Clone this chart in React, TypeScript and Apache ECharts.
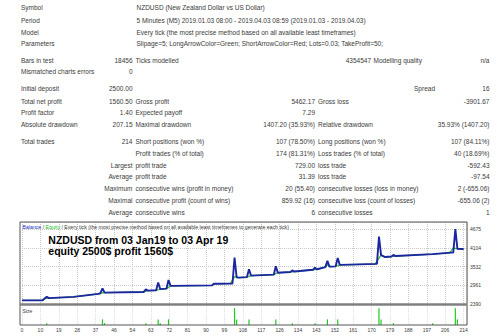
import { useEffect, useRef } from "react";
import * as echarts from "echarts";

// ---------- report table texts ----------
const headerRows = [
  ["Symbol", "NZDUSD (New Zealand Dollar vs US Dollar)"],
  ["Period", "5 Minutes (M5) 2019.01.03 08:00 - 2019.04.03 08:59 (2019.01.03 - 2019.04.03)"],
  ["Model", "Every tick (the most precise method based on all available least timeframes)"],
  ["Parameters", "Slipage=5; LongArrowColor=Green; ShortArrowColor=Red; Lots=0.03; TakeProfit=50;"],
];
const testRow = ["Bars in test", "18456", "Ticks modelled", "4354547", "Modelling quality", "n/a"];
const errorsRow = ["Mismatched charts errors", "0"];
const depositRow = ["Initial deposit", "2500.00", "Spread", "16"];
const statRows = [
  ["Total net profit", "1560.50", "Gross profit", "5462.17", "Gross loss", "-3901.67"],
  ["Profit factor", "1.40", "Expected payoff", "7.29", "", ""],
  ["Absolute drawdown", "207.15", "Maximal drawdown", "1407.20 (35.93%)", "Relative drawdown", "35.93% (1407.20)"],
];
const tradeRows = [
  ["Total trades", "214", "Short positions (won %)", "107 (78.50%)", "Long positions (won %)", "107 (84.11%)"],
  ["", "", "Profit trades (% of total)", "174 (81.31%)", "Loss trades (% of total)", "40 (18.69%)"],
  ["", "Largest", "profit trade", "729.00", "loss trade", "-592.43"],
  ["", "Average", "profit trade", "31.39", "loss trade", "-97.54"],
  ["", "Maximum", "consecutive wins (profit in money)", "20 (55.40)", "consecutive losses (loss in money)", "2 (-655.06)"],
  ["", "Maximal", "consecutive profit (count of wins)", "859.92 (16)", "consecutive loss (count of losses)", "-655.06 (2)"],
  ["", "Average", "consecutive wins", "6", "consecutive losses", "1"],
];

// ---------- chart texts ----------
const chartTitle1 = "NZDUSD from 03 Jan19 to 03 Apr 19";
const chartTitle2 = "equity 2500$ profit 1560$";
const chartHeaderRest = " / Every tick (the most precise method based on all available least timeframes to generate each tick)";

// ---------- chart data ----------
const xTickLabels = ["0", "10", "19", "28", "37", "46", "54", "63", "72", "81", "90", "99", "108", "117", "126", "134", "143", "152", "161", "170", "179", "188", "197", "206", "214"];
const yTickLabels = ["2390", "2961", "3532", "4104", "4675"];
const totalTrades = 214;
const yMin = 2390;
const yStep = 571.25;

// [trade number, balance]
const balance = [
  [0, 2500], [10, 2505], [11, 2560], [12, 2615], [13, 2570], [25, 2610], [37, 2700], [38, 2720],
  [39, 2870], [40, 2740], [59, 2760], [60, 2840], [61, 2800], [65, 2810], [66, 3050], [67, 2845],
  [70, 2860], [71, 3125], [72, 2945], [92, 2960], [93, 3010], [102, 3020], [103, 3815], [104, 3210],
  [105, 3200], [109, 3215], [110, 3455], [111, 3260], [122, 3290], [123, 3545], [124, 3350],
  [130, 3370], [131, 3420], [132, 3385], [141, 3440], [142, 3500], [143, 3455], [147, 3520],
  [148, 3715], [149, 3535], [152, 3545], [153, 3800], [154, 3590], [172, 3620], [173, 4455],
  [174, 3890], [176, 3830], [179, 3845], [180, 3895], [181, 3860], [199, 3920], [208, 3965],
  [209, 3970], [210, 4690], [211, 4080], [214, 4075],
];
// [trade number, equity]
const equity = [
  [0, 2500], [10, 2505], [11, 2560], [13, 2570], [25, 2610], [37, 2700], [38, 2720], [40, 2740],
  [59, 2760], [61, 2800], [65, 2810], [67, 2845], [70, 2860], [72, 2945], [92, 2960], [93, 3010],
  [101, 3020], [102, 3120], [103, 3230], [104, 3210], [105, 3200], [109, 3215], [111, 3260],
  [122, 3290], [124, 3350], [130, 3370], [132, 3385], [141, 3440], [143, 3455], [147, 3520],
  [148, 3600], [149, 3535], [152, 3545], [154, 3590], [171, 3615], [172, 3700], [173, 3800],
  [174, 3890], [176, 3830], [179, 3845], [181, 3860], [199, 3920], [207, 3960], [208, 4020],
  [209, 4110], [211, 4080], [214, 4075],
];
// [trade number, lot size]
const sizes = [
  [12, 0.03], [39, 0.09], [40, 0.03], [60, 0.03], [66, 0.09], [67, 0.03], [71, 0.09],
  [103, 0.27], [104, 0.09], [110, 0.09], [123, 0.09], [131, 0.03], [142, 0.03], [148, 0.09],
  [153, 0.09], [173, 0.27], [174, 0.09], [180, 0.03], [199, 0.03], [210, 0.27], [211, 0.09],
];

const FONT = "Liberation Sans";
const TXT = "#3a3a3a";

function txt(x: number, y: number, text: string, align = "left", size = 6.5, extra: any = {}) {
  return {
    type: "text",
    x,
    y,
    silent: true,
    z: 10,
    style: { text, fontSize: size, fontFamily: FONT, fill: TXT, align, verticalAlign: "middle", ...extra },
  };
}

export default function App() {
  const ref = useRef<HTMLDivElement>(null);
  useEffect(() => {
    if (!ref.current) return;
    const chart = echarts.init(ref.current, null, { renderer: "svg" });

    const colX = [21, 132.5, 135.5, 315, 318, 489.5];
    const colAlign = ["left", "right", "left", "right", "left", "right"];
    const g: any[] = [];
    const headerY = [7.5, 20, 32, 43.5];
    headerRows.forEach((r, i) => {
      g.push(txt(colX[0], headerY[i], r[0]));
      g.push(txt(136.5, headerY[i], r[1]));
    });
    // bars in test row
    g.push(txt(colX[0], 60, testRow[0]));
    g.push(txt(colX[1], 60, testRow[1], "right"));
    g.push(txt(colX[2], 60, testRow[2]));
    g.push(txt(371, 60, testRow[3], "right"));
    g.push(txt(373.5, 60, testRow[4]));
    g.push(txt(colX[5], 60, testRow[5], "right"));
    g.push(txt(colX[0], 71.7, errorsRow[0]));
    g.push(txt(colX[1], 71.7, errorsRow[1], "right"));
    g.push(txt(colX[0], 88.5, depositRow[0]));
    g.push(txt(colX[1], 88.5, depositRow[1], "right"));
    g.push(txt(435, 88.5, depositRow[2], "right"));
    g.push(txt(colX[5], 88.5, depositRow[3], "right"));
    const statY = [101, 112.5, 124.5];
    statRows.forEach((r, i) => r.forEach((c, j) => { if (c) g.push(txt(colX[j], statY[i], c, colAlign[j])); }));
    const tradeY = [141.7, 153.3, 165.2, 176.7, 188.6, 200.7, 212.6];
    tradeRows.forEach((r, i) => r.forEach((c, j) => { if (c) g.push(txt(colX[j], tradeY[i], c, colAlign[j])); }));

    // chart frame
    g.push({ type: "rect", shape: { x: 20, y: 222, width: 447, height: 103 }, style: { fill: "none", stroke: "#555", lineWidth: 1 }, silent: true, z: 20 });
    g.push({ type: "line", shape: { x1: 20, y1: 304.5, x2: 467, y2: 304.5 }, style: { stroke: "#808080", lineWidth: 2.5 }, silent: true, z: 20 });
    g.push({
      type: "text", x: 22.5, y: 226.5, silent: true, z: 10,
      style: {
        text: "{b|Balance} / {g|Equity}" + chartHeaderRest,
        fontSize: 5.2, fontFamily: FONT, fill: TXT, verticalAlign: "middle",
        rich: { b: { fill: "#2030c0", fontSize: 5.2, fontFamily: FONT }, g: { fill: "#20c020", fontSize: 5.2, fontFamily: FONT } },
      },
    });
    g.push(txt(48.3, 239.5, chartTitle1, "left", 10.5, { fontWeight: "bold", fill: "#000" }));
    g.push(txt(48.3, 251, chartTitle2, "left", 10.5, { fontWeight: "bold", fill: "#000" }));
    g.push(txt(22.5, 310.5, "Size", "left", 5));

    const pxPerTrade = 441.6 / totalTrades;
    const xMax = 445 / pxPerTrade;
    const xInt = totalTrades / 24;
    const xFmt = (v: number) => {
      const k = Math.round(v / xInt);
      return Math.abs(v - k * xInt) < 0.01 && xTickLabels[k] ? xTickLabels[k] : "";
    };
    const yFmt = (v: number) => {
      const k = Math.round((v - yMin) / yStep);
      return Math.abs(v - (yMin + k * yStep)) < 0.01 && yTickLabels[k] ? yTickLabels[k] : "";
    };
    const split = { show: true, lineStyle: { type: "dotted", color: "#c8c8c8", width: 1 } };

    chart.setOption({
      animation: false,
      backgroundColor: "#fff",
      textStyle: { fontFamily: FONT },
      grid: [
        { left: 22, top: 222, width: 445, height: 82, show: false },
        { left: 22, top: 305, width: 445, height: 20, show: false },
      ],
      xAxis: [
        {
          gridIndex: 0, type: "value", min: 0, max: xMax, interval: xInt,
          axisLine: { show: false }, axisTick: { show: false }, axisLabel: { show: false }, splitLine: split,
        },
        {
          gridIndex: 1, type: "value", min: 0, max: xMax, interval: xInt,
          axisLine: { show: false }, axisTick: { show: false },
          axisLabel: { show: true, fontSize: 5, color: TXT, margin: 2.5, formatter: xFmt, fontFamily: FONT },
          splitLine: { show: true, lineStyle: { type: "dotted", color: "#dedede", width: 1 } },
        },
      ],
      yAxis: [
        {
          gridIndex: 0, type: "value", position: "right", min: yMin, max: 4905, interval: yStep,
          axisLine: { show: false }, axisTick: { show: false },
          axisLabel: { show: true, fontSize: 5, color: TXT, margin: 3, formatter: yFmt, fontFamily: FONT },
          splitLine: split,
        },
        { gridIndex: 1, type: "value", min: 0, max: 0.32, show: false },
      ],
      series: [
        {
          type: "line", xAxisIndex: 0, yAxisIndex: 0, data: equity, symbol: "none",
          lineStyle: { color: "#30c030", width: 1.3 }, itemStyle: { color: "#30c030" }, z: 2,
        },
        {
          type: "line", xAxisIndex: 0, yAxisIndex: 0, data: balance, symbol: "none",
          lineStyle: { color: "#1c26a0", width: 1.9 }, itemStyle: { color: "#1c26a0" }, z: 3,
        },
        {
          type: "bar", xAxisIndex: 1, yAxisIndex: 1, data: sizes, barWidth: 1.2,
          itemStyle: { color: "#22c822" },
        },
      ],
      graphic: g,
    });
    return () => chart.dispose();
  }, []);
  return <div ref={ref} style={{ position: "fixed", left: 0, top: 0, width: 500, height: 336, background: "#fff" }} />;
}
